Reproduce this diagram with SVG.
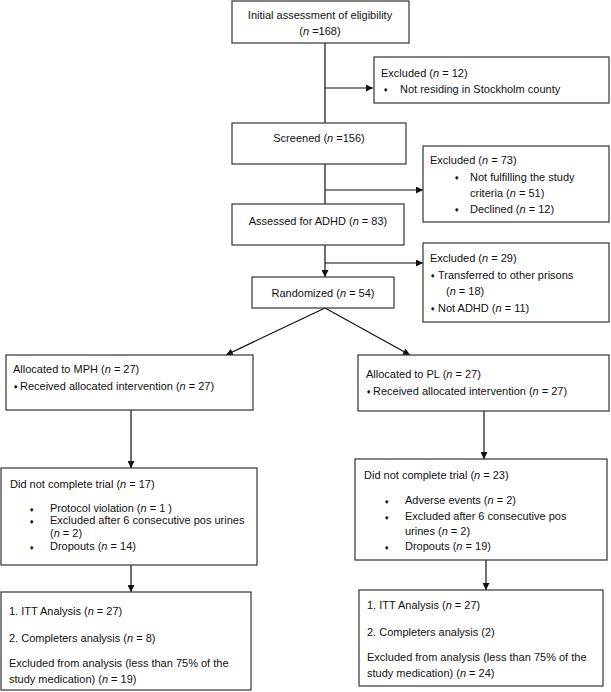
<svg xmlns="http://www.w3.org/2000/svg" width="611" height="692" viewBox="0 0 611 692">
<defs>
<marker id="ah" viewBox="0 0 10 10" refX="10" refY="5" markerWidth="7" markerHeight="7" markerUnits="userSpaceOnUse" orient="auto">
<path d="M0,0 L10,5 L0,10 z" fill="#111"/>
</marker>
<style>
rect{fill:#fff;stroke:#333;stroke-width:1.2}
text{font-family:"Liberation Sans",Arial,sans-serif;font-size:11px;fill:#111}
.c{text-anchor:middle}
.b{font-family:"DejaVu Sans",sans-serif;font-size:6px}
.conn line,.conn polyline{stroke:#111;stroke-width:1.2;fill:none}
tspan.i{font-style:italic}
</style>
</defs>
<rect x="0" y="0" width="611" height="692" style="fill:#fff;stroke:none"/>
<g class="conn" id="connectors">
<line x1="325" y1="43" x2="325" y2="123"/>
<line x1="325" y1="88" x2="373" y2="88" marker-end="url(#ah)"/>
<line x1="325" y1="164" x2="325" y2="204"/>
<line x1="325" y1="190" x2="423" y2="190" marker-end="url(#ah)"/>
<line x1="325" y1="245" x2="325" y2="277" marker-end="url(#ah)"/>
<line x1="325" y1="263" x2="423" y2="263" marker-end="url(#ah)"/>
<line x1="325" y1="308" x2="226" y2="355" marker-end="url(#ah)"/>
<line x1="325" y1="308" x2="410" y2="355" marker-end="url(#ah)"/>
<line x1="131" y1="410" x2="131" y2="468" marker-end="url(#ah)"/>
<line x1="484" y1="411" x2="484" y2="459" marker-end="url(#ah)"/>
<line x1="131" y1="565" x2="131" y2="592" marker-end="url(#ah)"/>
<line x1="486" y1="560" x2="486" y2="590" marker-end="url(#ah)"/>
</g>
<g id="n1">
<rect x="232" y="1" width="177" height="42"/>
<text class="c" x="320" y="19">Initial assessment of eligibility</text>
<text class="c" x="320" y="35">(<tspan class="i">n</tspan> =168)</text>
</g>
<g id="ex1">
<rect x="374" y="57" width="235" height="46"/>
<text x="381" y="77">Excluded (<tspan class="i">n</tspan> = 12)</text>
<text class="b" x="383" y="92">♦</text>
<text x="400" y="93">Not residing in Stockholm county</text>
</g>
<g id="n2">
<rect x="232" y="123" width="174" height="41"/>
<text class="c" x="319" y="142">Screened (<tspan class="i">n</tspan> =156)</text>
</g>
<g id="ex2">
<rect x="423" y="146" width="186" height="76"/>
<text x="430" y="164">Excluded (<tspan class="i">n</tspan> = 73)</text>
<text class="b" x="454" y="180">♦</text>
<text x="470" y="181">Not fulfilling the study</text>
<text x="470" y="197">criteria (<tspan class="i">n</tspan> = 51)</text>
<text class="b" x="454" y="212">♦</text>
<text x="470" y="213">Declined (<tspan class="i">n</tspan> = 12)</text>
</g>
<g id="n3">
<rect x="232" y="204" width="172" height="41"/>
<text class="c" x="318" y="225">Assessed for ADHD (<tspan class="i">n</tspan> = 83)</text>
</g>
<g id="ex3">
<rect x="423" y="243" width="186" height="79"/>
<text x="430" y="262">Excluded (<tspan class="i">n</tspan> = 29)</text>
<text class="b" x="430" y="278">♦</text>
<text x="438" y="279">Transferred to other prisons</text>
<text x="446" y="295">(<tspan class="i">n</tspan> = 18)</text>
<text class="b" x="430" y="311">♦</text>
<text x="438" y="312">Not ADHD (<tspan class="i">n</tspan> = 11)</text>
</g>
<g id="n4">
<rect x="252" y="277" width="142" height="31"/>
<text class="c" x="323" y="297">Randomized (<tspan class="i">n</tspan> = 54)</text>
</g>
<g id="n5">
<rect x="6" y="355" width="247" height="55"/>
<text x="13" y="373">Allocated to MPH (<tspan class="i">n</tspan> = 27)</text>
<text class="b" x="13" y="389">♦</text>
<text x="20" y="390">Received allocated intervention (<tspan class="i">n</tspan> = 27)</text>
</g>
<g id="n6">
<rect x="358" y="355" width="251" height="56"/>
<text x="366" y="378">Allocated to PL (<tspan class="i">n</tspan> = 27)</text>
<text class="b" x="366" y="394">♦</text>
<text x="373" y="395">Received allocated intervention (<tspan class="i">n</tspan> = 27)</text>
</g>
<g id="n7">
<rect x="1" y="468" width="256" height="97"/>
<text x="10" y="488">Did not complete trial (<tspan class="i">n</tspan> = 17)</text>
<text class="b" x="29" y="512">♦</text>
<text x="50" y="512">Protocol violation  (<tspan class="i">n</tspan> = 1 )</text>
<text class="b" x="29" y="524">♦</text>
<text x="50" y="524">Excluded after 6 consecutive pos urines</text>
<text x="50" y="537">(<tspan class="i">n</tspan> = 2)</text>
<text class="b" x="29" y="550">♦</text>
<text x="50" y="550">Dropouts (<tspan class="i">n</tspan> = 14)</text>
</g>
<g id="n8">
<rect x="355" y="459" width="252" height="101"/>
<text x="364" y="479">Did not complete trial (<tspan class="i">n</tspan> = 23)</text>
<text class="b" x="384" y="504">♦</text>
<text x="405" y="504">Adverse events (<tspan class="i">n</tspan> = 2)</text>
<text class="b" x="384" y="520">♦</text>
<text x="405" y="520">Excluded after 6 consecutive pos</text>
<text x="405" y="535">urines (<tspan class="i">n</tspan> = 2)</text>
<text class="b" x="384" y="550">♦</text>
<text x="405" y="550">Dropouts (<tspan class="i">n</tspan> = 19)</text>
</g>
<g id="n9">
<rect x="1" y="592" width="250" height="98"/>
<text x="9" y="615">1. ITT Analysis (<tspan class="i">n</tspan> = 27)</text>
<text x="9" y="642">2. Completers analysis (<tspan class="i">n</tspan> = 8)</text>
<text x="9" y="667">Excluded from analysis (less than 75% of the</text>
<text x="9" y="683">study medication) (<tspan class="i">n</tspan> = 19)</text>
</g>
<g id="n10">
<rect x="359" y="590" width="244" height="96"/>
<text x="367" y="609">1. ITT Analysis (<tspan class="i">n</tspan> = 27)</text>
<text x="367" y="636">2. Completers analysis (2)</text>
<text x="367" y="661">Excluded from analysis (less than 75% of the</text>
<text x="367" y="677">study medication) (<tspan class="i">n</tspan> = 24)</text>
</g>
</svg>
